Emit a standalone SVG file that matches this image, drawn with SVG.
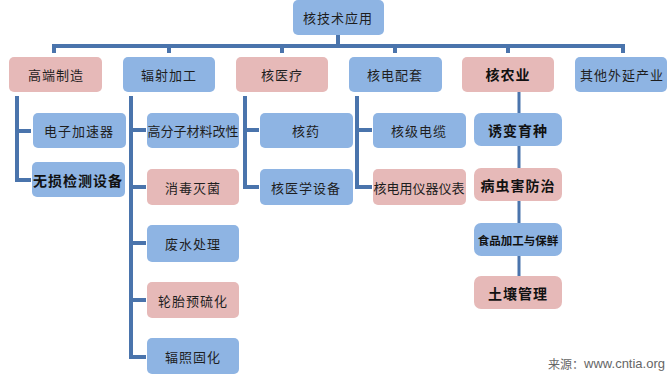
<svg xmlns="http://www.w3.org/2000/svg" width="672" height="376" viewBox="0 0 672 376">
<style>
.b{fill:#8EB4E3}
.p{fill:#E6B9B8}
.t{font-family:"Noto Sans CJK SC","Noto Sans",sans-serif;font-size:13px;fill:#1e1e1e;text-anchor:middle;dominant-baseline:central;letter-spacing:1px}
.tb{font-family:"Noto Sans CJK SC","Noto Sans",sans-serif;font-size:14px;font-weight:bold;fill:#111;text-anchor:middle;dominant-baseline:central;letter-spacing:1px}
.c{fill:none;stroke:#4A74AC;stroke-width:4}
.c2{fill:none;stroke:#4A74AC;stroke-width:3}
</style>
<rect width="672" height="376" fill="#fff"/>
<g id="connectors">
<path class="c" d="M338 35V46M54 53V46H623V53M169 46V53M282 46V53M395 46V53M508 46V53"/>
<path class="c" d="M17 96V180H31M17 131H31"/>
<path class="c" d="M131 96V357H146M131 130H146M131 187H146M131 243H146M131 300H146"/>
<path class="c" d="M245 96V187H259M245 130H259"/>
<path class="c" d="M357 96V187H372M357 130H372"/>
<path class="c2" d="M519 92V113M519 146V168M519 201V223M519 256V276"/>
</g>
<g id="root"><rect class="b" x="293" y="0" width="91" height="35" rx="5"/><text class="t" x="338" y="17">核技术应用</text></g>
<g id="n1"><rect class="p" x="9" y="57" width="93" height="35" rx="5"/><text class="t" x="56" y="74">高端制造</text></g>
<g id="n2"><rect class="b" x="123" y="57" width="92" height="35" rx="5"/><text class="t" x="169" y="74">辐射加工</text></g>
<g id="n3"><rect class="p" x="236" y="57" width="92" height="35" rx="5"/><text class="t" x="282" y="74">核医疗</text></g>
<g id="n4"><rect class="b" x="349" y="57" width="93" height="35" rx="5"/><text class="t" x="395" y="74">核电配套</text></g>
<g id="n5"><rect class="p" x="462" y="57" width="92" height="35" rx="5"/><text class="tb" x="508" y="74">核农业</text></g>
<g id="n6"><rect class="b" x="575" y="57" width="92" height="35" rx="5"/><text class="t" x="622" y="74">其他外延产业</text></g>
<g id="n1a"><rect class="b" x="33" y="113" width="93" height="35" rx="5"/><text class="t" x="79" y="130">电子加速器</text></g>
<g id="n1b"><rect class="b" x="32" y="162" width="93" height="35" rx="5"/><text class="tb" x="78" y="180">无损检测设备</text></g>
<g id="n2a"><rect class="b" x="147" y="113" width="92" height="35" rx="5"/><text class="t" x="193" y="130" style="letter-spacing:0">高分子材料改性</text></g>
<g id="n2b"><rect class="p" x="147" y="169" width="92" height="36" rx="5"/><text class="t" x="193" y="187">消毒灭菌</text></g>
<g id="n2c"><rect class="b" x="147" y="225" width="92" height="37" rx="5"/><text class="t" x="193" y="243">废水处理</text></g>
<g id="n2d"><rect class="p" x="147" y="282" width="92" height="36" rx="5"/><text class="t" x="193" y="300">轮胎预硫化</text></g>
<g id="n2e"><rect class="b" x="147" y="338" width="92" height="36" rx="5"/><text class="t" x="193" y="356">辐照固化</text></g>
<g id="n3a"><rect class="b" x="260" y="113" width="93" height="35" rx="5"/><text class="t" x="306" y="130">核药</text></g>
<g id="n3b"><rect class="b" x="260" y="169" width="93" height="36" rx="5"/><text class="t" x="306" y="187">核医学设备</text></g>
<g id="n4a"><rect class="b" x="373" y="113" width="93" height="35" rx="5"/><text class="t" x="419" y="130">核级电缆</text></g>
<g id="n4b"><rect class="p" x="373" y="169" width="93" height="36" rx="5"/><text class="t" x="419" y="187" style="letter-spacing:0">核电用仪器仪表</text></g>
<g id="n5a"><rect class="b" x="474" y="113" width="88" height="33" rx="7"/><text class="tb" x="518" y="130">诱变育种</text></g>
<g id="n5b"><rect class="p" x="474" y="168" width="88" height="33" rx="7"/><text class="tb" x="518" y="185">病虫害防治</text></g>
<g id="n5c"><rect class="b" x="474" y="223" width="88" height="33" rx="7"/><text class="tb" x="518" y="240" style="font-size:11.5px;letter-spacing:0">食品加工与保鲜</text></g>
<g id="n5d"><rect class="p" x="474" y="276" width="88" height="33" rx="7"/><text class="tb" x="518" y="293">土壤管理</text></g>
<text x="665" y="363" style="font-family:'Noto Sans CJK SC','Noto Sans',sans-serif;font-size:12px;fill:#666;text-anchor:end;dominant-baseline:central">来源：<tspan style="font-family:'Liberation Sans',sans-serif;font-size:13px">www.cntia.org</tspan></text>
</svg>
